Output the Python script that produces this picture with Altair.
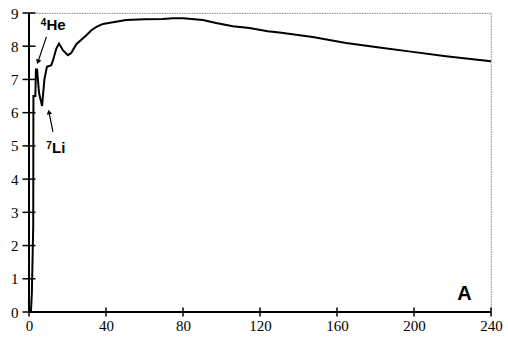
import altair as alt
import pandas as pd

# Binding energy per nucleon (MeV) vs mass number A
mass_number = [1, 1.5, 2.2, 2.3, 3.3, 3.6, 4.2, 5.2, 6.8, 8.0, 9.3, 11.6, 12.5, 14.2,
               15.6, 17.6, 20.2, 22, 24.6, 29.8, 32.4, 35, 38.4, 43.6, 50.5, 60,
               69.5, 74.7, 80, 90.3, 97.2, 105.9, 114.5, 124, 130.1, 147.4, 164.7,
               182, 199.3, 216.6, 240]
binding = [0.0, 0.6, 2.6, 6.5, 6.5, 7.3, 7.3, 6.6, 6.2, 7.0, 7.38, 7.43, 7.58, 7.93,
           8.08, 7.88, 7.73, 7.8, 8.06, 8.33, 8.48, 8.58, 8.67, 8.72, 8.79, 8.81,
           8.82, 8.84, 8.84, 8.79, 8.70, 8.60, 8.55, 8.45, 8.41, 8.28, 8.10,
           7.96, 7.83, 7.70, 7.55]

x_ticks = [0, 40, 80, 120, 160, 200, 240]
y_ticks = [0, 1, 2, 3, 4, 5, 6, 7, 8, 9]

# annotations: main label, superscript, arrows (tail -> head)
label_text = ["He", "Li"]
label_x = [9.03, 11.94]
label_y = [8.48, 4.78]
sup_text = ["4", "7"]
sup_x = [6.1, 9.0]
sup_y = [8.61, 4.91]
arrow_x1 = [9.03, 12.45]
arrow_y1 = [8.28, 5.42]
arrow_x2 = [4.67, 10.38]
arrow_y2 = [7.53, 6.02]
arrow_angle = [198.6, 348.7]

corner_label = ["A"]
corner_x = [222.5]
corner_y = [0.35]

curve = pd.DataFrame({"A": mass_number, "E": binding})
labels = pd.DataFrame({"t": label_text, "x": label_x, "y": label_y})
sups = pd.DataFrame({"t": sup_text, "x": sup_x, "y": sup_y})
arrows = pd.DataFrame({"x1": arrow_x1, "y1": arrow_y1, "x2": arrow_x2,
                       "y2": arrow_y2, "ang": arrow_angle})
corner = pd.DataFrame({"t": corner_label, "x": corner_x, "y": corner_y})
xt = pd.DataFrame({"v": x_ticks})
yt = pd.DataFrame({"v": y_ticks})

xs = alt.Scale(domain=[0, 240], nice=False, zero=False)
ys = alt.Scale(domain=[0, 9], nice=False, zero=False)

serif = "Liberation Serif"
x_axis = alt.Axis(values=x_ticks, title=None, grid=False, domain=False, ticks=False,
                  tickSize=0, labelPadding=6, labelFont=serif, labelFontSize=15,
                  labelColor="black", labelFlush=False, labelOverlap=False)
y_axis = alt.Axis(values=y_ticks, title=None, grid=False, domain=False, ticks=False,
                  tickSize=0, labelPadding=11, labelFont=serif, labelFontSize=15,
                  labelColor="black", labelFlush=False, labelOverlap=False)


def X(field):
    return alt.X(field, type="quantitative", scale=xs, axis=x_axis)


def Y(field):
    return alt.Y(field, type="quantitative", scale=ys, axis=y_axis)


def X0():
    return alt.XDatum(0, type="quantitative", scale=xs, axis=x_axis)


def Y0():
    return alt.YDatum(0, type="quantitative", scale=ys, axis=y_axis)


line = alt.Chart(curve).mark_line(color="black", strokeWidth=2).encode(
    x=X("A"), y=Y("E"),
)

# axis lines
x_line = alt.Chart(curve).mark_rule(color="black", strokeWidth=2).encode(y=Y0())
y_line = alt.Chart(curve).mark_rule(color="black", strokeWidth=2).encode(x=X0())

# tick marks crossing the axis lines
x_tick_marks = alt.Chart(xt).mark_tick(
    orient="vertical", size=9, thickness=1.5, color="black", opacity=1
).encode(x=X("v"), y=Y0())
y_tick_marks = alt.Chart(yt).mark_tick(
    orient="horizontal", size=13, thickness=1.5, color="black", opacity=1
).encode(y=Y("v"), x=X0())

arrow_lines = alt.Chart(arrows).mark_rule(color="black", strokeWidth=1.2).encode(
    x=X("x1"), y=Y("y1"), x2="x2:Q", y2="y2:Q"
)
arrow_heads = alt.Chart(arrows).mark_point(
    shape="triangle-up", filled=True, color="black", size=30, opacity=1
).encode(x=X("x2"), y=Y("y2"), angle=alt.Angle("ang:Q", scale=None))


def text_layer(df, size):
    return alt.Chart(df).mark_text(
        font="Liberation Sans", fontWeight="bold", fontSize=size, align="left",
        baseline="alphabetic", color="black"
    ).encode(x=X("x"), y=Y("y"), text="t:N")


main_text = text_layer(labels, 15)
sup_text_mark = text_layer(sups, 10)
corner_text = text_layer(corner, 20)

chart = alt.layer(
    line, x_line, y_line, x_tick_marks, y_tick_marks, arrow_lines, arrow_heads,
    main_text, sup_text_mark, corner_text
).properties(
    width=462, height=299,
    autosize=alt.AutoSizeParams(type="none"),
    padding={"left": 29, "top": 13, "right": 17, "bottom": 32},
    background="white",
).configure_view(
    stroke="#999999", strokeWidth=1.2, strokeDash=[1.5, 1]
).configure_axis(
    labelFont=serif, labelFontSize=15, labelColor="black",
)

chart.save("out.html", embed_options={"renderer": "svg", "actions": False})
